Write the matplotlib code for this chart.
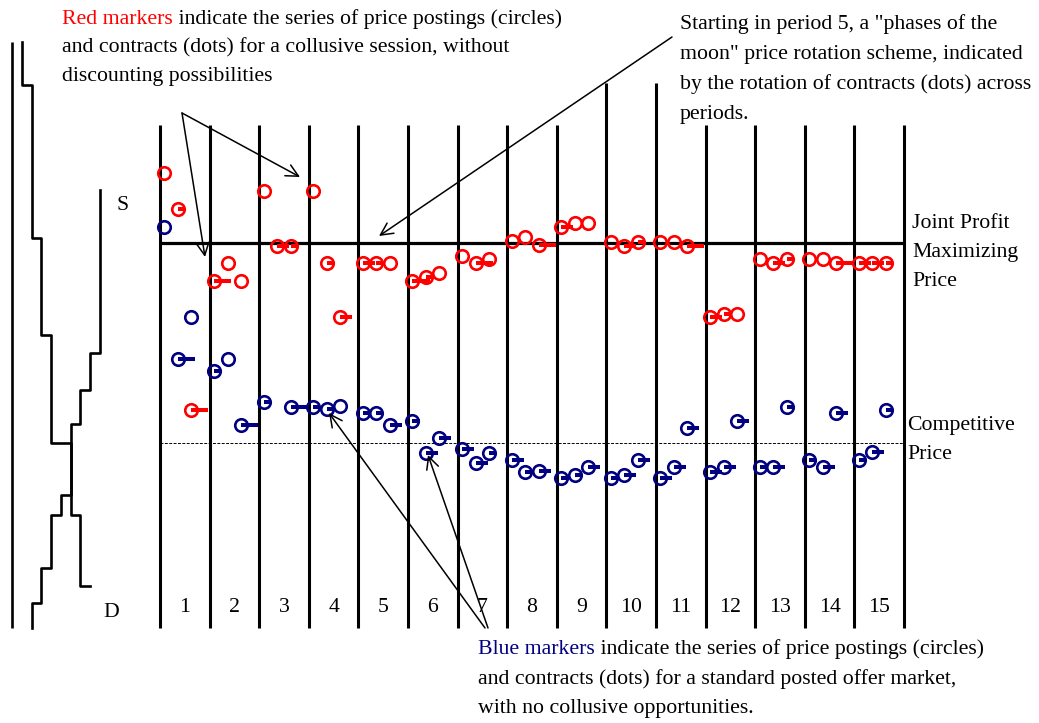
import numpy as np
import matplotlib
matplotlib.use("Agg")
import matplotlib.pyplot as plt
from matplotlib.patches import FancyArrowPatch

plt.rcParams['font.family'] = ['Liberation Serif', 'DejaVu Serif']

W, H, DPI = 1039, 723, 100

# ---------------- data ----------------
periods = np.arange(1, 16)
period_labels = [str(p) for p in periods]

joint_profit_price = 480
competitive_price = 280

# posted prices of the three sellers in each period, collusive session
red_posted = np.array([
    [550, 514, 313], [442, 460, 442], [532, 477, 477], [532, 460, 406],
    [460, 460, 460], [442, 446, 450], [467, 460, 464], [482, 486, 478],
    [496, 500, 500], [481, 477, 481], [481, 481, 477], [406, 409, 409],
    [464, 460, 464], [464, 464, 460], [460, 460, 460]])
# units sold by each seller (0 = posting only, no contract)
red_units = np.array([
    [0, 1, 3], [3, 0, 0], [0, 2, 1], [0, 1, 2], [2, 1, 0],
    [3, 1, 0], [0, 3, 0], [0, 0, 3], [2, 0, 0], [0, 2, 1],
    [0, 0, 3], [2, 1, 0], [0, 2, 1], [0, 0, 3], [2, 2, 1]])

# posted prices, standard posted offer market
blue_posted = np.array([
    [496, 364, 406], [352, 364, 298], [321, np.nan, 316], [316, 314, 317],
    [310, 310, 298], [302, 270, 285], [274, 260, 270], [263, 251, 252],
    [245, 248, 256], [245, 248, 263], [245, 256, 295], [251, 256, 302],
    [256, 256, 316], [263, 256, 310], [263, 271, 313]])
blue_units = np.array([
    [0, 3, 0], [1, 0, 3], [1, 0, 3], [1, 1, 0], [1, 1, 2],
    [1, 2, 2], [2, 2, 1], [2, 1, 2], [1, 1, 2], [1, 2, 2],
    [2, 2, 2], [2, 2, 2], [1, 2, 1], [1, 2, 2], [1, 2, 1]])

# induced market: unit values / costs (step functions)
demand_values = [638, 485, 388, 280, 280, 208, 137]    # units 2..8
supply_costs = [120, 155, 208, 228, 299, 333, 370]     # units 3..9
demand_cap, supply_cap = 681, 533

RED = '#ff0000'
NAVY = '#000080'
FS = 15.7

fig = plt.figure(figsize=(W / DPI, H / DPI), dpi=DPI)


def fp(x, y):
    """pixel position -> figure fraction"""
    return (x / W, 1 - y / H)


# ---------------- main period panel ----------------
PW = 49.6  # pixels per period
ax = fig.add_axes([0, 0, 1, 1])
ax.set_xlim(-160 / PW, (W - 160) / PW)
ax.set_ylim(0, H)
ax.axis('off')

bottom_p = 95
for k in range(16):
    top_p = 640 if k in (9, 10) else 598
    ax.plot([k, k], [bottom_p, top_p], color='black', lw=2.2,
            solid_capstyle='butt', zorder=1)
ax.plot([0, 15], [joint_profit_price] * 2, color='black', lw=2.3,
        solid_capstyle='butt', zorder=1)
ax.plot([0, 15], [competitive_price] * 2, color='black', lw=0.7,
        dashes=(3, 1.5), zorder=1)

seller_offset = np.array([4.5, 18.0, 31.5]) / PW


def draw_series(prices, units, color):
    xs = (periods - 1)[:, None] + seller_offset[None, :]
    ok = ~np.isnan(prices)
    ax.plot(xs[ok], prices[ok], 'o', ms=9.0, mfc='none', mec=color,
            mew=1.9, zorder=3)
    for x, p, q in zip(xs[ok], prices[ok], units[ok]):
        if q > 0:
            ax.plot([x, x + (2 + 5 * q) / PW], [p, p], color=color, lw=2.9,
                    solid_capstyle='butt', zorder=3)


draw_series(blue_posted, blue_units, NAVY)
draw_series(red_posted, red_units, RED)

for p, lab in zip(periods, period_labels):
    ax.text(p - 0.5, 723 - 612, lab, ha='center', va='baseline', fontsize=FS,
            zorder=6,
            bbox=dict(boxstyle='square,pad=0.08', fc='white', ec='none')
            if lab == '7' else None)

# ---------------- induced supply / demand panel ----------------
QW = 9.75  # pixels per unit
ax_sd = fig.add_axes([0, 0, 1, 1])
ax_sd.set_xlim(-12 / QW, (W - 12) / QW)
ax_sd.set_ylim(0, H)
ax_sd.axis('off')
ax_sd.patch.set_alpha(0)

ax_sd.plot([0, 0], [95, 681], color='black', lw=1.9, solid_capstyle='butt')

dq, dp = [1], [demand_cap]
q = 1
for v in demand_values:
    dq += [q, q + 1]
    dp += [v, v]
    q += 1
ax_sd.plot(dq, dp, color='black', lw=1.9)

sq, sp = [2], [95]
q = 2
for v in supply_costs:
    sq += [q, q]
    sp += [sp[-1], v]
    sq += [q + 1]
    sp += [v]
    q += 1
sq += [q]
sp += [supply_cap]
ax_sd.plot(sq, sp, color='black', lw=1.9)

# ---------------- annotations ----------------
TXT = dict(fontsize=FS, transform=fig.transFigure, va='baseline', ha='left')

t1 = fig.text(*fp(62, 24), 'Red markers', color=RED, **TXT)
fig.canvas.draw()
bb = t1.get_window_extent()
fig.text(bb.x1 / W, 1 - 24 / H,
         ' indicate the series of price postings (circles)', **TXT)
fig.text(*fp(62, 52.5), 'and contracts (dots) for a collusive session, without', **TXT)
fig.text(*fp(62, 81), 'discounting possibilities', **TXT)

for i, line in enumerate(['Starting in period 5, a "phases of the',
                          'moon" price rotation scheme, indicated',
                          'by the rotation of contracts (dots) across',
                          'periods.']):
    fig.text(*fp(680, 29 + 30 * i), line, **TXT)

for i, line in enumerate(['Joint Profit', 'Maximizing', 'Price']):
    fig.text(*fp(912, 228 + 29 * i), line, **TXT)
for i, line in enumerate(['Competitive', 'Price']):
    fig.text(*fp(907, 430 + 29 * i), line, **TXT)

fig.text(*fp(117, 210), 'S', **TXT)
fig.text(*fp(103, 617), 'D', **TXT)

t2 = fig.text(*fp(478, 654), 'Blue markers', color=NAVY, **TXT)
fig.canvas.draw()
bb = t2.get_window_extent()
fig.text(bb.x1 / W, 1 - 654 / H,
         ' indicate the series of price postings (circles)', **TXT)
fig.text(*fp(478, 684), 'and contracts (dots) for a standard posted offer market,', **TXT)
fig.text(*fp(478, 713), 'with no collusive opportunities.', **TXT)

arrows = [((182, 113), (205, 257)),
          ((182, 113), (300, 177)),
          ((672, 37), (379, 236)),
          ((485, 628), (329, 413)),
          ((488, 628), (428, 455))]
for tail, tip in arrows:
    fig.add_artist(FancyArrowPatch(fp(*tail), fp(*tip),
                                   transform=fig.transFigure,
                                   arrowstyle='->', mutation_scale=22,
                                   lw=1.1, color='black', zorder=4,
                                   shrinkA=0, shrinkB=0))

fig.savefig('out.png', dpi=DPI)
